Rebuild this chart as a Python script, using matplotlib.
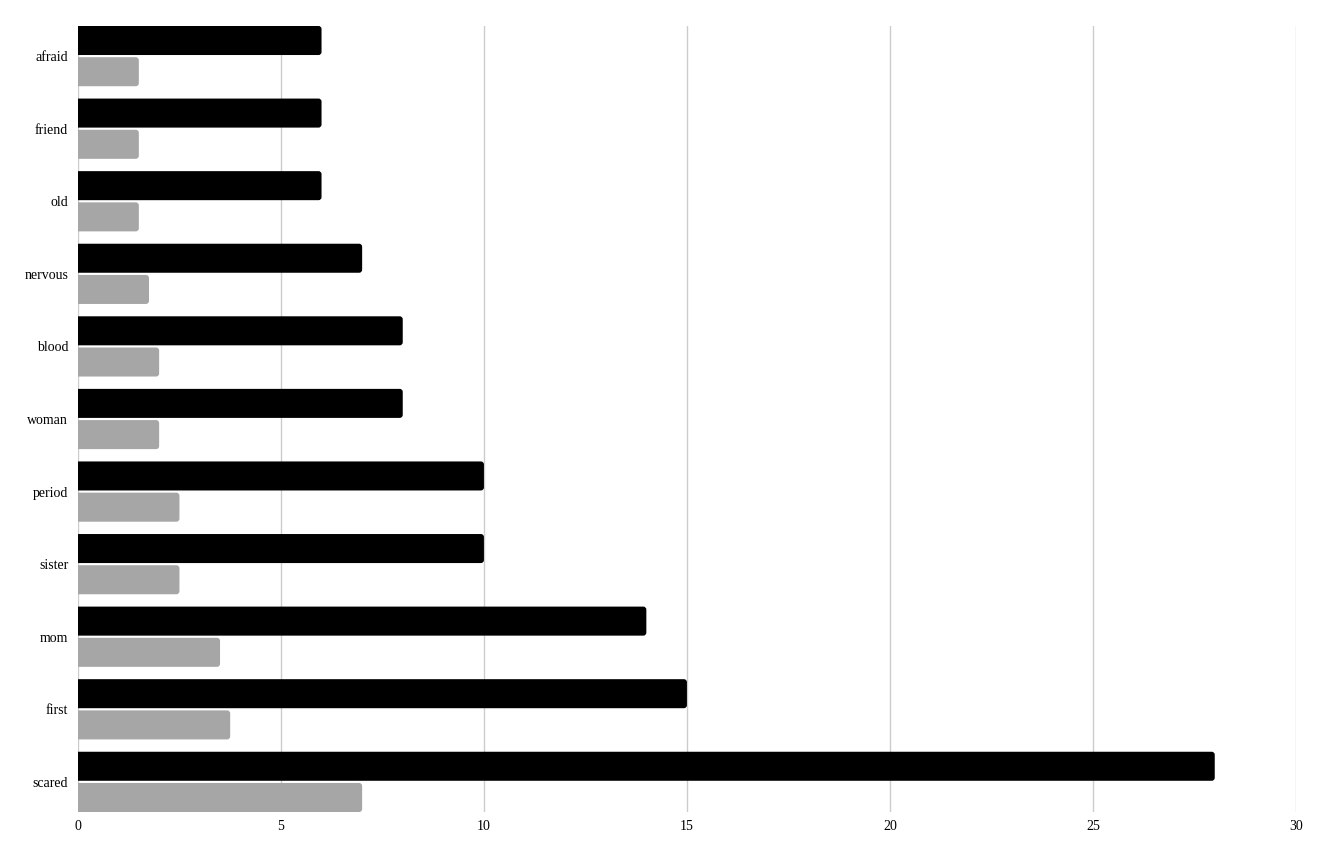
import numpy as np
import matplotlib.pyplot as plt
from matplotlib.patches import FancyBboxPatch

# データ
words = ['scared', 'first', 'mom', 'sister', 'period', 'woman', 'blood',
         'nervous', 'old', 'friend', 'afraid']
counts_a = [28, 15, 14, 10, 10, 8, 8, 7, 6, 6, 6]
counts_b = [7, 3.75, 3.5, 2.5, 2.5, 2, 2, 1.75, 1.5, 1.5, 1.5]
xticks = [0, 5, 10, 15, 20, 25, 30]

plt.rcParams['font.family'] = ['Liberation Serif', 'DejaVu Serif']

fig = plt.figure(figsize=(13.3, 8.55), dpi=100)
ax = fig.add_axes([0.0586, 0.0503, 0.9158, 0.9193])

bar_h = 0.4
gap = 0.03
off = (bar_h + gap) / 2
y = np.arange(len(words))

# 角丸の比率 (x方向 px / y方向 px)
aspect = (1218 / 30) / (786 / (len(words) - 1 + 2 * off + bar_h))


def rbar(yc, w, color):
    # 左端は軸でクリップして角丸を隠す
    p = FancyBboxPatch((-0.5, yc - bar_h / 2), w + 0.5, bar_h,
                       boxstyle='round,pad=0,rounding_size=0.075',
                       mutation_aspect=aspect, fc=color, ec='none', zorder=3)
    ax.add_patch(p)


for yi, a, b in zip(y, counts_a, counts_b):
    rbar(yi + off, a, '#000000')
    rbar(yi - off, b, '#a6a6a6')

ax.set_xlim(0, 30)
ax.set_ylim(-off - bar_h / 2, len(words) - 1 + off + bar_h / 2)
ax.set_xticks(xticks)
ax.set_yticks(y)
ax.set_yticklabels(words)
ax.tick_params(length=0, labelsize=10)
ax.tick_params(axis='y', pad=7)
ax.tick_params(axis='x', pad=6)
ax.grid(axis='x', color='#cccccc', linewidth=1, zorder=0)
for s in ax.spines.values():
    s.set_visible(False)

fig.savefig('out.png', dpi=100, facecolor='white')
